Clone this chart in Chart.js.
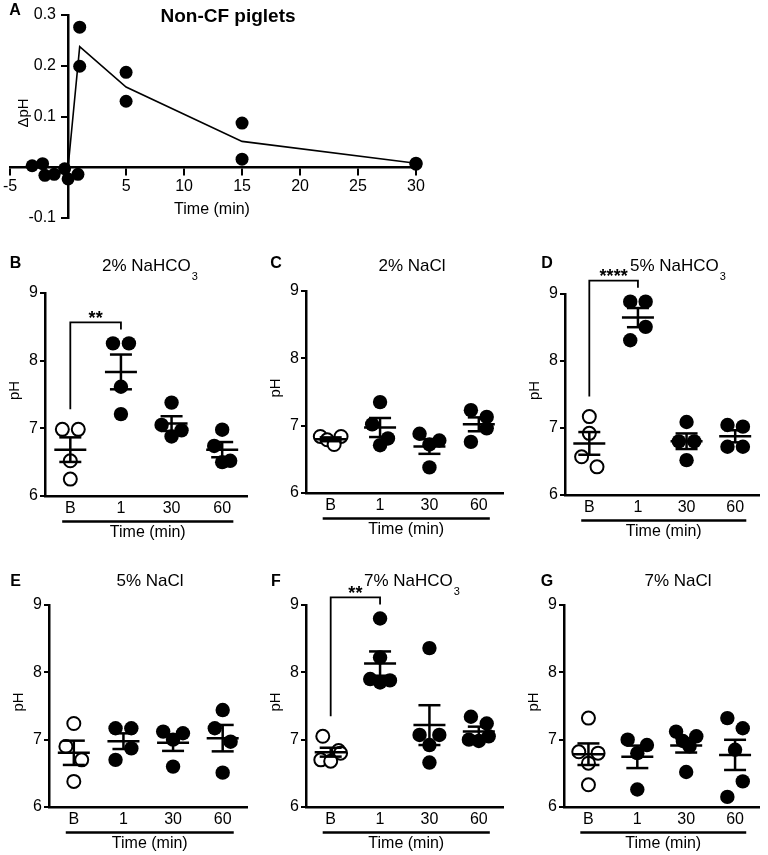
<!DOCTYPE html>
<html><head><meta charset="utf-8">
<script src="https://cdn.jsdelivr.net/npm/chart.js@4.4.0/dist/chart.umd.min.js"></script>
<style>
html,body{margin:0;padding:0;background:#fff;}
body{width:768px;height:855px;position:relative;overflow:hidden;}
canvas{position:absolute;}
</style></head><body>
<canvas id="cA" width="440" height="235" style="left:0;top:0"></canvas>
<canvas id="cB" width="256" height="295" style="left:0;top:250px"></canvas>
<canvas id="cC" width="256" height="295" style="left:256px;top:250px"></canvas>
<canvas id="cD" width="256" height="295" style="left:512px;top:250px"></canvas>
<canvas id="cE" width="256" height="290" style="left:0;top:565px"></canvas>
<canvas id="cF" width="256" height="290" style="left:256px;top:565px"></canvas>
<canvas id="cG" width="256" height="290" style="left:512px;top:565px"></canvas>
<script>
// ---------------- DATA ----------------
// Panel A: Non-CF piglets, change in pH over time
const aTimes = [-3.1, -2.2, -2.0, -1.2, -0.3, 0, 0.85, 1, 1, 5, 5, 15, 15, 30, 30];
const aDelta = [0.003, 0.007, -0.016, -0.014, -0.003, -0.023, -0.014, 0.276, 0.199, 0.187, 0.130, 0.087, 0.016, 0.008, 0.006];
const aMeanTimes = [0, 1, 5, 15, 30];
const aMeanDelta = [0, 0.2375, 0.158, 0.051, 0.008];

// Panels B-G: pH per time category (B = baseline, 1, 30, 60 min)
const timeCats = ['B', '1', '30', '60'];
const nahco3_2pct = [[6.985, 6.985, 6.52, 6.25], [8.255, 8.255, 7.615, 7.21], [7.38, 7.05, 6.97, 6.88], [6.98, 6.74, 6.52, 6.50]];
const nacl_2pct   = [[6.84, 6.84, 6.79, 6.72], [7.35, 7.02, 6.81, 6.71], [6.88, 6.78, 6.72, 6.38], [7.23, 7.13, 6.96, 6.76]];
const nahco3_5pct = [[7.17, 6.92, 6.57, 6.42], [8.885, 8.885, 8.51, 8.31], [7.09, 6.80, 6.80, 6.52], [7.045, 7.02, 6.72, 6.72]];
const nacl_5pct   = [[7.24, 6.90, 6.70, 6.38], [7.17, 7.17, 6.87, 6.70], [7.12, 7.095, 7.0, 6.6], [7.44, 7.17, 6.97, 6.51]];
const nahco3_7pct = [[7.05, 6.84, 6.80, 6.70, 6.68], [8.80, 8.22, 7.90, 7.88, 7.85], [8.36, 7.07, 7.07, 6.92, 6.66], [7.34, 7.24, 7.05, 7.0, 6.98]];
const nacl_7pct   = [[7.32, 6.82, 6.80, 6.65, 6.33], [7.0, 6.92, 6.80, 6.26], [7.12, 7.05, 6.98, 6.90, 6.52], [7.32, 7.17, 6.85, 6.38, 6.15]];
const sigLabels = ['**', '', '****', '', '**', ''];  // baseline vs 1 min
const panelTitles = [['2% NaHCO', '3'], ['2% NaCl', ''], ['5% NaHCO', '3'], ['5% NaCl', ''], ['7% NaHCO', '3'], ['7% NaCl', '']];

// ---------------- STYLE / LAYOUT ----------------
const FONT = "'Liberation Sans', Arial, Helvetica, sans-serif";
const WY = 30, HX = 44;
const panelLayout = [
  {id:'cB', letter:'B', col:0, row:0, axisX:45,  top:293, bottom:496, right:248},
  {id:'cC', letter:'C', col:1, row:0, axisX:306, top:291, bottom:493, right:506},
  {id:'cD', letter:'D', col:2, row:0, axisX:565, top:294, bottom:495, right:767},
  {id:'cE', letter:'E', col:0, row:1, axisX:49,  top:605, bottom:807, right:250},
  {id:'cF', letter:'F', col:1, row:1, axisX:306, top:605, bottom:807, right:506},
  {id:'cG', letter:'G', col:2, row:1, axisX:564, top:605, bottom:807, right:767}
];
const colLeft = [0, 256, 512], rowTop = [250, 565], rowH = [295, 290], W = 256;
const titleX = [150, 156, 166], letterX = [15.5, 20, 35], letterY = [14, 17], titleY = [15, 15];
const Y_LABEL_GAP = '\u00A0\u00A0\u2009';

function txt(ctx, s, x, y, font, align, base) {
  ctx.save(); ctx.font = font; ctx.fillStyle = '#000';
  ctx.textAlign = align || 'center'; ctx.textBaseline = base || 'middle';
  ctx.fillText(s, x, y); ctx.restore();
}
function seg(ctx, x1, y1, x2, y2) { ctx.beginPath(); ctx.moveTo(x1, y1); ctx.lineTo(x2, y2); ctx.stroke(); }

// Horizontal spreading of overlapping dots (rows of near-equal values are centered)
function spread(vals, pxPerUnit) {
  const order = vals.map((v, i) => i).sort((a, b) => vals[b] - vals[a]);
  const rows = [];
  order.forEach(i => {
    const r = rows[rows.length - 1];
    if (r && (vals[r[0]] - vals[i]) * pxPerUnit < 16) r.push(i); else rows.push([i]);
  });
  const out = new Array(vals.length).fill(0);
  let multi = 0;
  const patterns = {1:[0], 2:[-8, 8], 3:[-10, 10, 0], 4:[-10.5, 10.5, -3.5, 3.5], 5:[-12, 12, -6, 6, 0]};
  rows.forEach(r => {
    if (r.length === 1) return;
    const sgn = (multi++ % 2 === 0) ? 1 : -1;
    const pat = patterns[Math.min(r.length, 5)];
    r.forEach((idx, k) => { out[idx] = sgn * (pat[k] !== undefined ? pat[k] : 0); });
  });
  return out; // in px
}

// ---------------- PANEL A ----------------
const panelAText = {
  id: 'panelAText',
  afterDraw(chart) {
    const ctx = chart.ctx;
    txt(ctx, 'A', 15, 11, 'bold 16px ' + FONT);
    txt(ctx, 'Non-CF piglets', 228, 17, 'bold 19px ' + FONT);
    txt(ctx, 'Time (min)', 212, 210, '16px ' + FONT);
    ctx.save(); ctx.translate(24, 113); ctx.rotate(-Math.PI / 2);
    txt(ctx, '\u0394pH', 0, 0, '15px ' + FONT); ctx.restore();
  }
};
new Chart(document.getElementById('cA'), {
  type: 'scatter',
  data: { datasets: [
    { type: 'line', data: aMeanTimes.map((t, i) => ({x: t, y: aMeanDelta[i]})), borderColor: '#000', borderWidth: 1.6,
      pointRadius: 0, fill: false, tension: 0, order: 2 },
    { type: 'scatter', data: aTimes.map((t, i) => ({x: t, y: aDelta[i]})), backgroundColor: '#000', borderColor: '#000',
      borderWidth: 0, pointRadius: 6.5, order: 1, clip: false }
  ]},
  options: {
    responsive: false, animation: false, events: [],
    layout: { padding: { left: 8, right: 24, top: 15, bottom: 17 } },
    plugins: { legend: { display: false }, tooltip: { enabled: false } },
    scales: {
      x: { type: 'linear', position: { y: 0 }, min: -5, max: 30,
        ticks: { stepSize: 5, autoSkip: false, maxRotation: 0, color: '#000', padding: 3,
          font: { family: FONT, size: 16 }, callback: v => (v === 0 ? '' : String(v)) },
        grid: { drawOnChartArea: false, color: '#000', lineWidth: 2, tickLength: 7 },
        border: { color: '#000', width: 2.5 } },
      y: { type: 'linear', position: { x: 0 }, min: -0.1, max: 0.3,
        ticks: { stepSize: 0.1, color: '#000', padding: 4, font: { family: FONT, size: 16 },
          callback: v => (Math.abs(v) < 1e-9 ? '' : String(Math.round(v * 10) / 10) + Y_LABEL_GAP) },
        grid: { drawOnChartArea: false, color: '#000', lineWidth: 2, tickLength: 6 },
        border: { color: '#000', width: 2.5 } }
    }
  },
  plugins: [panelAText]
});

// ---------------- PANELS B-G ----------------
const panelData = [nahco3_2pct, nacl_2pct, nahco3_5pct, nacl_5pct, nahco3_7pct, nacl_7pct];

panelLayout.forEach((L, pi) => {
  const data = panelData[pi];
  const cl = colLeft[L.col], ct = rowTop[L.row], H = rowH[L.row];
  const pad = { left: L.axisX - cl - WY, right: cl + W - L.right, top: L.top - ct, bottom: ct + H - HX - L.bottom };
  const pxPerUnit = (L.bottom - L.top) / 3;
  const catPx = (L.right - L.axisX) / 4;
  const pts = data.map((vals, ci) => {
    const off = spread(vals, pxPerUnit);
    return vals.map((v, k) => ({ x: ci + off[k] / catPx, y: v }));
  });
  const plugin = {
    id: 'panelExtras' + pi,
    afterDatasetsDraw(chart) {
      const { ctx, chartArea: ca, scales: { x, y } } = chart;
      ctx.save(); ctx.strokeStyle = '#000'; ctx.lineCap = 'butt';
      // mean +/- SEM
      data.forEach((vals, i) => {
        const n = vals.length, m = vals.reduce((a, b) => a + b, 0) / n;
        const sd = Math.sqrt(vals.reduce((a, b) => a + (b - m) * (b - m), 0) / (n - 1));
        const se = sd / Math.sqrt(n);
        const cx = x.getPixelForValue(i), ym = y.getPixelForValue(m);
        const yt = y.getPixelForValue(m + se), yb = y.getPixelForValue(m - se);
        ctx.lineWidth = 2.5;
        seg(ctx, cx - 16, ym, cx + 16, ym);
        seg(ctx, cx, yt, cx, yb);
        seg(ctx, cx - 11, yt, cx + 11, yt);
        seg(ctx, cx - 11, yb, cx + 11, yb);
      });
      // significance bracket
      const lab = sigLabels[pi];
      if (lab) {
        const x0 = x.getPixelForValue(0), x1 = x.getPixelForValue(1);
        const yl = y.getPixelForValue(Math.max(...data[0])) - 20;
        const yr = y.getPixelForValue(Math.max(...data[1])) - 14;
        const yt = Math.min(yl, yr) - 7;
        ctx.lineWidth = 1.8;
        ctx.beginPath(); ctx.moveTo(x0, yl); ctx.lineTo(x0, yt); ctx.lineTo(x1, yt); ctx.lineTo(x1, yr); ctx.stroke();
        txt(ctx, lab, (x0 + x1) / 2, yt + 1.5, 'bold 18px ' + FONT, 'center', 'alphabetic');
      }
      // underline + axis title
      const ux0 = x.getPixelForValue(0) - 0.16 * catPx, ux1 = x.getPixelForValue(3) + 0.22 * catPx;
      const uy = ca.bottom + 25.5;
      ctx.lineWidth = 2.5; seg(ctx, ux0, uy, ux1, uy);
      txt(ctx, 'Time (min)', (ux0 + ux1) / 2, ca.bottom + 37, '16px ' + FONT);
      // pH label
      ctx.save(); ctx.translate(ca.left - 30, (ca.top + ca.bottom) / 2 - 4); ctx.rotate(-Math.PI / 2);
      txt(ctx, 'pH', 0, 0, '15px ' + FONT); ctx.restore();
      // title with subscript
      const [main, sub] = panelTitles[pi];
      ctx.font = '17px ' + FONT; const wm = ctx.measureText(main).width;
      ctx.font = '11px ' + FONT; const ws = sub ? ctx.measureText(sub).width + 1 : 0;
      const tx = titleX[L.col] - (wm + ws) / 2, ty = titleY[L.row] + 6;
      txt(ctx, main, tx, ty, '17px ' + FONT, 'left', 'alphabetic');
      if (sub) txt(ctx, sub, tx + wm + 1, ty + 9, '11px ' + FONT, 'left', 'alphabetic');
      // panel letter
      txt(ctx, L.letter, letterX[L.col], letterY[L.row], 'bold 16px ' + FONT);
      ctx.restore();
    }
  };
  new Chart(document.getElementById(L.id), {
    type: 'scatter',
    data: { datasets: [
      { data: pts[0], backgroundColor: '#fff', borderColor: '#000', borderWidth: 2, pointRadius: 6.5, clip: false },
      { data: pts.slice(1).flat(), backgroundColor: '#000', borderColor: '#000', borderWidth: 0, pointRadius: 7.2, clip: false }
    ]},
    options: {
      responsive: false, animation: false, events: [],
      layout: { padding: pad },
      plugins: { legend: { display: false }, tooltip: { enabled: false } },
      scales: {
        x: { type: 'linear', position: 'bottom', min: -0.5, max: 3.5,
          afterBuildTicks: s => { s.ticks = timeCats.map((c, i) => ({ value: i })); },
          afterFit: s => { s.height = HX; },
          ticks: { autoSkip: false, maxRotation: 0, color: '#000', padding: 3, font: { family: FONT, size: 16 },
            callback: v => timeCats[v] },
          grid: { display: false, drawTicks: false },
          border: { color: '#000', width: 2.5 } },
        y: { type: 'linear', position: 'left', min: 6, max: 9,
          afterFit: s => { s.width = WY; },
          ticks: { stepSize: 1, color: '#000', padding: 2, font: { family: FONT, size: 16 } },
          grid: { drawOnChartArea: false, color: '#000', lineWidth: 2, tickLength: 5 },
          border: { color: '#000', width: 2.5 } }
      }
    },
    plugins: [plugin]
  });
});
</script>
</body></html>
